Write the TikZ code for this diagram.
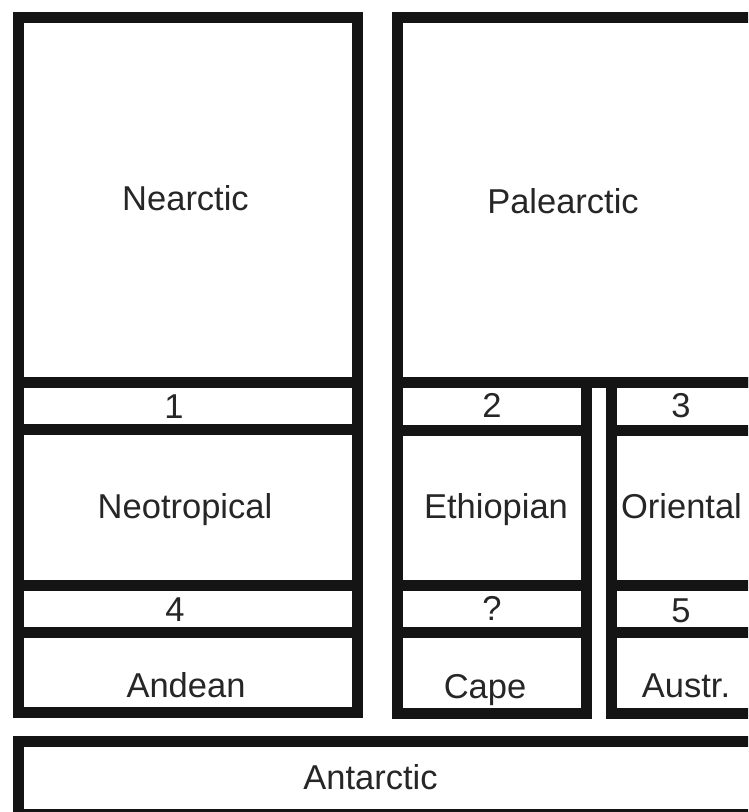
\documentclass[tikz,border=0pt]{standalone}
\usepackage{fontspec}
\setmainfont{Liberation Sans}
\definecolor{ink}{HTML}{141414}
\definecolor{txt}{HTML}{262626}
\begin{document}
\begin{tikzpicture}[x=1pt,y=-1pt,
  wall/.style={draw=ink,line width=11pt,line join=miter},
  lab/.style={anchor=base,inner sep=0pt,text=txt,font=\fontsize{34.5}{40}\selectfont}]
\useasboundingbox (0,0) rectangle (748,812);
\clip (0,0) rectangle (748,812);
\fill[white] (0,0) rectangle (748,812);
% left column
\draw[wall] (18,17) rectangle (357,712);
\draw[wall] (18,382) -- (357,382);
\draw[wall] (18,429) -- (357,429);
\draw[wall] (18,585) -- (357,585);
\draw[wall] (18,632) -- (357,632);
% Palearctic block
\draw[wall] (397,17) rectangle (770,382);
% Ethiopian column
\draw[wall] (397,382) rectangle (586,713);
\draw[wall] (397,430) -- (586,430);
\draw[wall] (397,585) -- (586,585);
\draw[wall] (397,632) -- (586,632);
% Oriental column
\draw[wall] (611,382) rectangle (770,713);
\draw[wall] (611,430) -- (770,430);
\draw[wall] (611,585) -- (770,585);
\draw[wall] (611,632) -- (770,632);
% Antarctic
\draw[wall] (18,741) rectangle (770,814);
% labels
\node[lab] (nea) at (185.5,210) {Nearctic};
\node[lab] (pal) at (563,213) {Palearctic};
\node[lab] (n1) at (174,418) {1};
\node[lab] (n2) at (492,417) {2};
\node[lab] (n3) at (681,417) {3};
\node[lab] (neo) at (185,518) {Neotropical};
\node[lab] (eth) at (496,518) {Ethiopian};
\node[lab] (ori) at (681.5,518) {Oriental};
\node[lab] (n4) at (175,621) {4};
\node[lab] (nq) at (492,620) {?};
\node[lab] (n5) at (681,622) {5};
\node[lab] (and) at (186,697) {Andean};
\node[lab] (cap) at (485,698) {Cape};
\node[lab] (aus) at (686,697) {Austr.};
\node[lab] (ant) at (370.5,789) {Antarctic};
\end{tikzpicture}
\end{document}
